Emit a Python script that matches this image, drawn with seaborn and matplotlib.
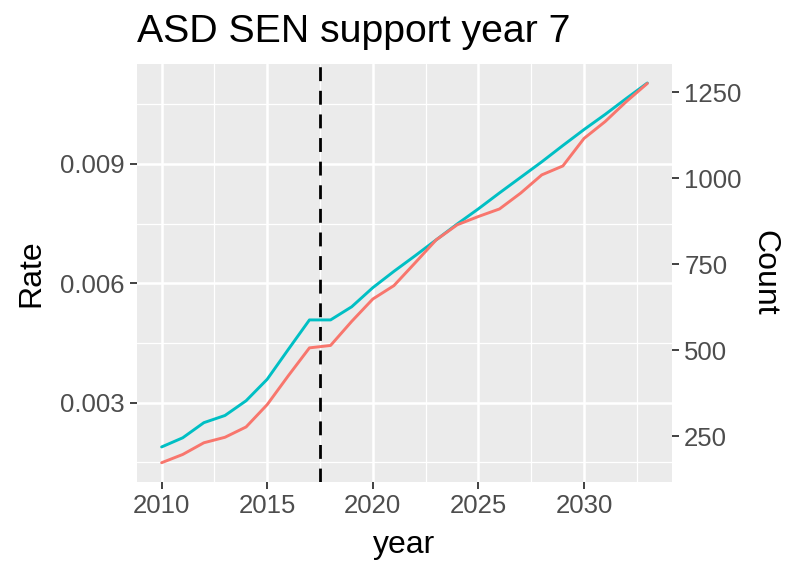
import numpy as np
import pandas as pd
import matplotlib
matplotlib.use('Agg')
import matplotlib.pyplot as plt
import seaborn as sns
from matplotlib.ticker import FixedLocator, FormatStrFormatter


years = list(range(2010, 2034))

rate = [0.00189, 0.00212, 0.00250, 0.00268, 0.00305, 0.00359, 0.00434, 0.00508,
        0.00508, 0.00541, 0.00589, 0.00630, 0.00669, 0.00709, 0.00749, 0.00787,
        0.00827, 0.00866, 0.00905, 0.00946, 0.00986, 0.01024, 0.01064, 0.01103]

count = [173, 197, 231, 247, 277, 342, 426, 507,
         514, 584, 649, 688, 754, 821, 865, 889,
         911, 957, 1010, 1036, 1116, 1165, 1223, 1276]

# secondary axis: count = rate * scale
scale = 115800
cutoff_year = 2017.5

rate_ticks = [0.003, 0.006, 0.009]
count_ticks = [250, 500, 750, 1000, 1250]
x_ticks = [2010, 2015, 2020, 2025, 2030]

df = pd.DataFrame({'year': years, 'Rate': rate, 'Count': count})

sns.set_theme(style='darkgrid')
plt.rcParams['font.family'] = ['Liberation Sans', 'DejaVu Sans']

fig = plt.figure(figsize=(7.87, 5.63), dpi=100)
ax = fig.add_axes([0.1745, 0.1444, 0.6789, 0.7419])
ax.set_facecolor('#EBEBEB')
for s in ax.spines.values():
    s.set_visible(False)

sns.lineplot(data=df, x='year', y='Rate', ax=ax, color='#00BFC4', linewidth=2.1)

ax2 = ax.twinx()
ax2.patch.set_visible(False)
for s in ax2.spines.values():
    s.set_visible(False)
sns.lineplot(data=df, x='year', y='Count', ax=ax2, color='#F8766D', linewidth=2.1)
ax2.axvline(cutoff_year, color='black', linestyle=(0, (5, 3.5)), linewidth=2)

# limits like ggplot (5% expansion), both series on the rate scale
lo = min(min(rate), min(count) / scale)
hi = max(max(rate), max(count) / scale)
pad = (hi - lo) * 0.05
ax.set_ylim(lo - pad, hi + pad)
ax2.set_ylim((lo - pad) * scale, (hi + pad) * scale)
xpad = (years[-1] - years[0]) * 0.05
ax.set_xlim(years[0] - xpad, years[-1] + xpad)

ax.xaxis.set_major_locator(FixedLocator(x_ticks))
ax.xaxis.set_minor_locator(FixedLocator([2012.5, 2017.5, 2022.5, 2027.5, 2032.5]))
ax.yaxis.set_major_locator(FixedLocator(rate_ticks))
ax.yaxis.set_minor_locator(FixedLocator([0.0015, 0.0045, 0.0075, 0.0105]))
ax.yaxis.set_major_formatter(FormatStrFormatter('%.3f'))
ax2.yaxis.set_major_locator(FixedLocator(count_ticks))

ax.grid(which='major', color='white', linewidth=1.8)
ax.grid(which='minor', color='white', linewidth=0.9)
ax2.grid(False)
ax.set_axisbelow(True)

for a in (ax, ax2):
    a.tick_params(which='major', length=5, width=1.3, color='#333333',
                  labelsize=18.5, labelcolor='#4D4D4D', pad=4)
    a.tick_params(which='minor', length=0)
ax.tick_params(axis='x', bottom=True)
ax.tick_params(axis='y', left=True)
ax2.tick_params(axis='y', right=True)

ax.set_xlabel('year', fontsize=23, color='black')
ax.set_ylabel('Rate', fontsize=23, color='black')
ax2.set_ylabel('Count', fontsize=23, color='black', rotation=270)

ax.xaxis.label.set_va('center')
ax.xaxis.set_label_coords(0.5, -0.152)
ax.yaxis.label.set_va('center')
ax.yaxis.set_label_coords(-0.199, 0.5)
ax2.yaxis.label.set_va('center')
ax2.yaxis.set_label_coords(1.173, 0.5)

ax.set_title('ASD SEN support year 7', loc='left', fontsize=28.3,
             color='black', pad=16, x=-0.001)

fig.savefig('out.png', dpi=100)
